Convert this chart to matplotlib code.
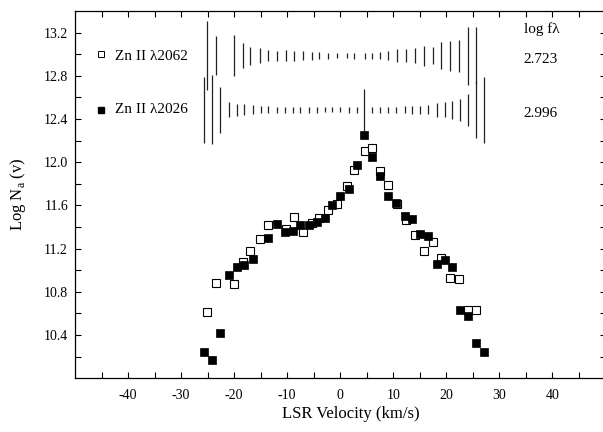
import numpy as np
import matplotlib
matplotlib.use('Agg')
from matplotlib import pyplot as plt

# Zn II 2062 (open squares); nan = point hidden under the other series
v_2062 = [-25.15, -23.46, -20.02, -18.32, -16.93, -15.18, -13.54, -11.85, -10.29, -8.73,
          -7.04, -5.34, -3.95, -2.26, -0.56, 1.19, 2.63, 4.57, 6.02, 7.58,
          9.09, 10.72, 12.47, 14.16, 15.80, 17.49, 19.00, 20.69, 22.31, 24.00, 25.64]
logn_2062 = [10.612, 10.883, 10.870, 11.073, 11.179, 11.286, 11.422, np.nan, 11.378, 11.495,
             11.354, 11.437, 11.480, 11.554, 11.613, 11.784, 11.927, 12.102, 12.135, 11.923,
             11.794, 11.615, 11.461, 11.323, 11.182, 11.265, 11.110, 10.932, 10.917, 10.634, 10.634]
err_2062 = [0.32, 0.18, 0.19, 0.115, 0.085, 0.07, 0.05, 0.046, 0.05, 0.046,
            0.042, 0.037, 0.032, 0.028, 0.023, 0.023, 0.028, 0.028, 0.028, 0.032,
            0.042, 0.06, 0.06, 0.07, 0.09, 0.08, 0.125, 0.14, 0.145, 0.27, 0.265]

# Zn II 2026 (filled squares)
v_2026 = [-25.77, -24.27, -22.76, -21.01, -19.56, -18.06, -16.37, -14.90, -13.54, -11.85,
          -10.35, -8.97, -7.52, -5.83, -4.40, -2.95, -1.50, -0.08, 1.56, 3.07,
          4.51, 6.02, 7.58, 9.03, 10.59, 12.28, 13.60, 15.11, 16.55, 18.25,
          19.68, 21.13, 22.50, 24.00, 25.64, 27.09]
logn_2026 = [10.246, 10.172, 10.422, 10.953, 11.027, 11.050, 11.108, np.nan, 11.295, 11.424,
             11.354, 11.366, 11.422, 11.422, 11.443, 11.480, 11.600, 11.692, 11.748, 11.973,
             12.255, 12.052, 11.877, 11.692, 11.622, 11.507, 11.477, 11.336, 11.320, 11.062,
             11.098, 11.027, 10.634, 10.575, 10.323, 10.242]
err_2026 = [0.305, 0.32, 0.21, 0.07, 0.055, 0.05, 0.042, 0.032, 0.032, 0.028,
            0.028, 0.028, 0.028, 0.028, 0.028, 0.023, 0.023, 0.023, 0.028, 0.028,
            0.195, 0.028, 0.028, 0.028, 0.028, 0.032, 0.037, 0.037, 0.042, 0.065,
            0.07, 0.08, 0.105, 0.15, 0.265, 0.305]

labels = ['Zn II \u03bb2062', 'Zn II \u03bb2026']
log_flambda = ['2.723', '2.996']
err_rows = [12.985, 12.485]   # level where each set of error bars is drawn

xticks = np.arange(-45, 50, 5)
xticklabels = ['' if t % 10 else '%d' % t for t in xticks]
yticks = np.round(np.arange(10.2, 13.3, 0.2), 1)
yticklabels = ['%.1f' % t if round(t / 0.2) % 2 == 0 else '' for t in yticks]


def main():
    plt.rcParams['font.family'] = ['Liberation Serif', 'DejaVu Serif']
    fig = plt.figure(figsize=(6.03, 4.32), dpi=100)
    ax = fig.add_axes([0.1244, 0.1243, 0.8798, 0.8502])

    # error bars drawn as vertical ticks in two rows at the top
    e1 = np.array(err_2062)
    ax.vlines(v_2062, err_rows[0] - e1, err_rows[0] + e1, color='#222222', lw=0.9)
    e2 = np.array(err_2026)
    ax.vlines(v_2026, err_rows[1] - e2, err_rows[1] + e2, color='#222222', lw=0.9)

    ax.plot(v_2062, logn_2062, ls='none', marker='s', ms=5.2, mfc='white',
            mec='black', mew=0.8, zorder=3)
    ax.plot(v_2026, logn_2026, ls='none', marker='s', ms=5.6, mfc='black',
            mec='black', mew=0.5, zorder=4)

    # legend-like labels
    ax.plot([0.049], [0.883], transform=ax.transAxes, ls='none', marker='s', ms=4,
            mfc='white', mec='black', mew=0.7, clip_on=False)
    ax.plot([0.049], [0.731], transform=ax.transAxes, ls='none', marker='s', ms=4.3,
            mfc='black', mec='black', clip_on=False)
    ax.text(0.0754, 0.876, labels[0], transform=ax.transAxes, va='center', fontsize=11)
    ax.text(0.0754, 0.731, labels[1], transform=ax.transAxes, va='center', fontsize=11)
    ax.text(0.846, 0.951, 'log f\u03bb', transform=ax.transAxes, va='center', fontsize=11)
    ax.text(0.846, 0.867, log_flambda[0], transform=ax.transAxes, va='center', fontsize=11)
    ax.text(0.846, 0.722, log_flambda[1], transform=ax.transAxes, va='center', fontsize=11)

    ax.set_xlim(-50, 50)
    ax.set_ylim(10.0, 13.4)
    ax.set_xticks(xticks)
    ax.set_xticklabels(xticklabels)
    ax.set_yticks(yticks)
    ax.set_yticklabels(yticklabels)
    ax.tick_params(direction='in', top=True, right=True, length=4, width=0.8,
                   labelsize=10)
    ax.tick_params(axis='x', pad=8)
    ax.tick_params(axis='y', pad=5)
    for s in ax.spines.values():
        s.set_linewidth(0.9)

    ax.set_xlabel('LSR Velocity (km/s)', fontsize=12)
    ax.xaxis.set_label_coords(0.52, -0.075)
    ax.set_ylabel('Log N$_\\mathregular{a}$ (v)', fontsize=12)
    ax.yaxis.set_label_coords(-0.088, 0.5)

    fig.savefig('out.png', dpi=100)


if __name__ == '__main__':
    main()
